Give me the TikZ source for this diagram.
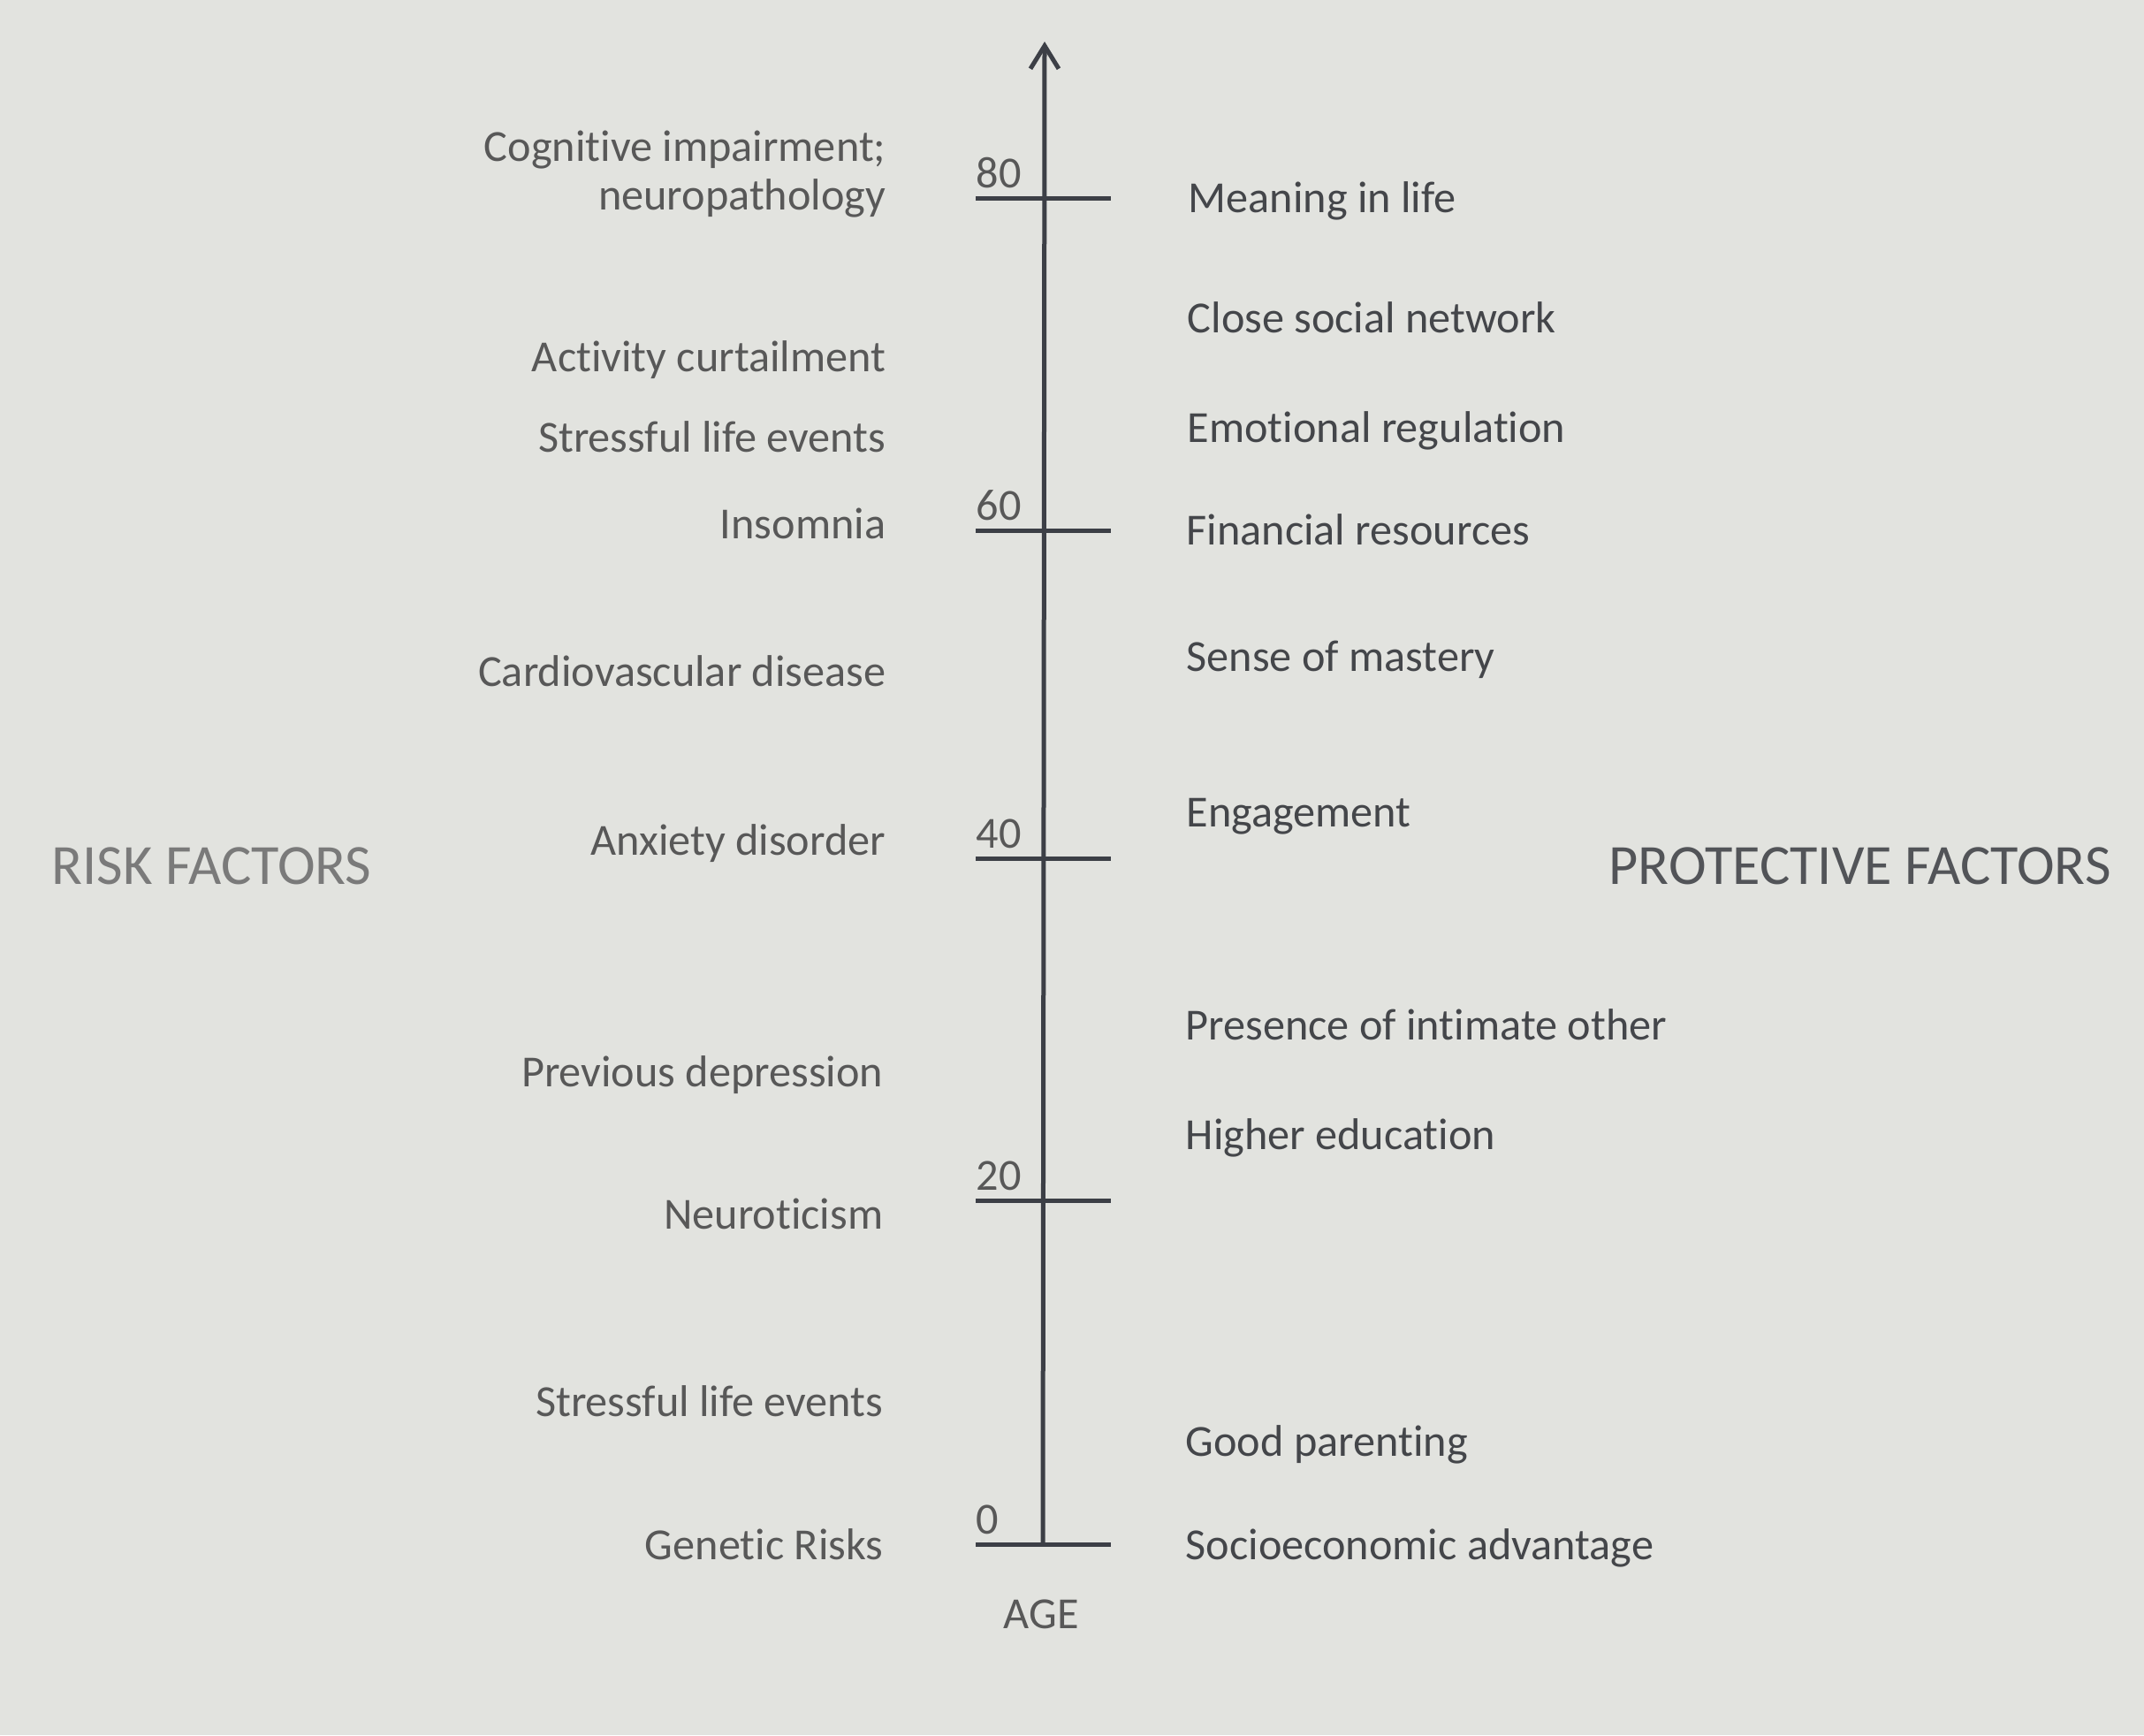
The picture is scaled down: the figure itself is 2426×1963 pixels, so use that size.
\documentclass[tikz,border=0pt]{standalone}
\usepackage{fontspec}
\setmainfont{Carlito}[Ligatures=NoCommon]
\usetikzlibrary{arrows.meta}
\definecolor{paper}{RGB}{226,227,223}
\definecolor{ink}{RGB}{60,63,70}
\definecolor{riskgray}{RGB}{88,88,88}
\definecolor{protink}{RGB}{68,70,74}
\definecolor{titlegray}{RGB}{122,122,122}
\definecolor{protgray}{RGB}{82,84,88}
\begin{document}
\begin{tikzpicture}[x=0.1mm,y=-0.1mm,
  lbl/.style={font=\fontsize{14.3}{15.5}\selectfont,inner sep=0pt},
  oneline/.style={text height=1.5ex,text depth=.25ex},
  risk/.style={lbl,oneline,text=riskgray,anchor=east},
  prot/.style={lbl,oneline,text=protink,anchor=west},
  ticklbl/.style={lbl,text=riskgray,anchor=south west},
  axisline/.style={draw=ink,line width=0.5mm},
  title/.style={font=\fontsize{18.3}{20}\selectfont,inner sep=0pt}]
% paper
\fill[paper] (0,0) rectangle (2426,1963);
\useasboundingbox (0,0) rectangle (2426,1963);

% age axis
\coordinate (base) at (1180,1747);
\coordinate (top) at (1182,47);
\draw[axisline,-{Straight Barb[length=2.6mm,width=3.2mm,line width=0.5mm]}] (base) -- (top);

% ticks and their labels
\foreach \n/\y in {0/1747,20/1358,40/971,60/600,80/224}{
  \coordinate (tl\n) at (1104,\y);
  \coordinate (tr\n) at (1257,\y);
  \draw[axisline] (tl\n) -- (tr\n);
  \node[ticklbl] (t\n) at ([yshift=1mm]tl\n) {\n};
}
\node[lbl,text=riskgray,anchor=center] (age) at (1178,1826) {AGE};

% risk factors
\node[lbl,text=riskgray,anchor=east,align=right] (r1) at (1003,197) {Cognitive impairment;\\neuropathology};
\node[risk] (r2) at (1003,410) {Activity curtailment};
\node[risk] (r3) at (1003,501) {Stressful life events};
\node[risk] (r4) at (1003,599) {Insomnia};
\node[risk] (r5) at (1003,766) {Cardiovascular disease};
\node[risk] (r6) at (1003,957) {Anxiety disorder};
\node[risk] (r7) at (1000,1219) {Previous depression};
\node[risk] (r8) at (1000,1380) {Neuroticism};
\node[risk] (r9) at (1000,1592) {Stressful life events};
\node[risk] (r10) at (1000,1754) {Genetic Risks};

% protective factors
\node[prot] (p1) at (1344,230) {Meaning in life};
\node[prot] (p2) at (1343,366) {Close social network};
\node[prot] (p3) at (1343,490) {Emotional regulation};
\node[prot] (p4) at (1342,606) {Financial resources};
\node[prot] (p5) at (1342,749) {Sense of mastery};
\node[prot] (p6) at (1342,925) {Engagement};
\node[prot] (p7) at (1341,1166) {Presence of intimate other};
\node[prot] (p8) at (1341,1290) {Higher education};
\node[prot] (p9) at (1341,1637) {Good parenting};
\node[prot] (p10) at (1341,1754) {Socioeconomic advantage};

% column titles
\node[title,text=titlegray,anchor=west] (riskt) at (58,980) {RISK FACTORS};
\node[title,text=protgray,anchor=west] (prott) at (1820,980) {PROTECTIVE FACTORS};
\end{tikzpicture}
\end{document}
